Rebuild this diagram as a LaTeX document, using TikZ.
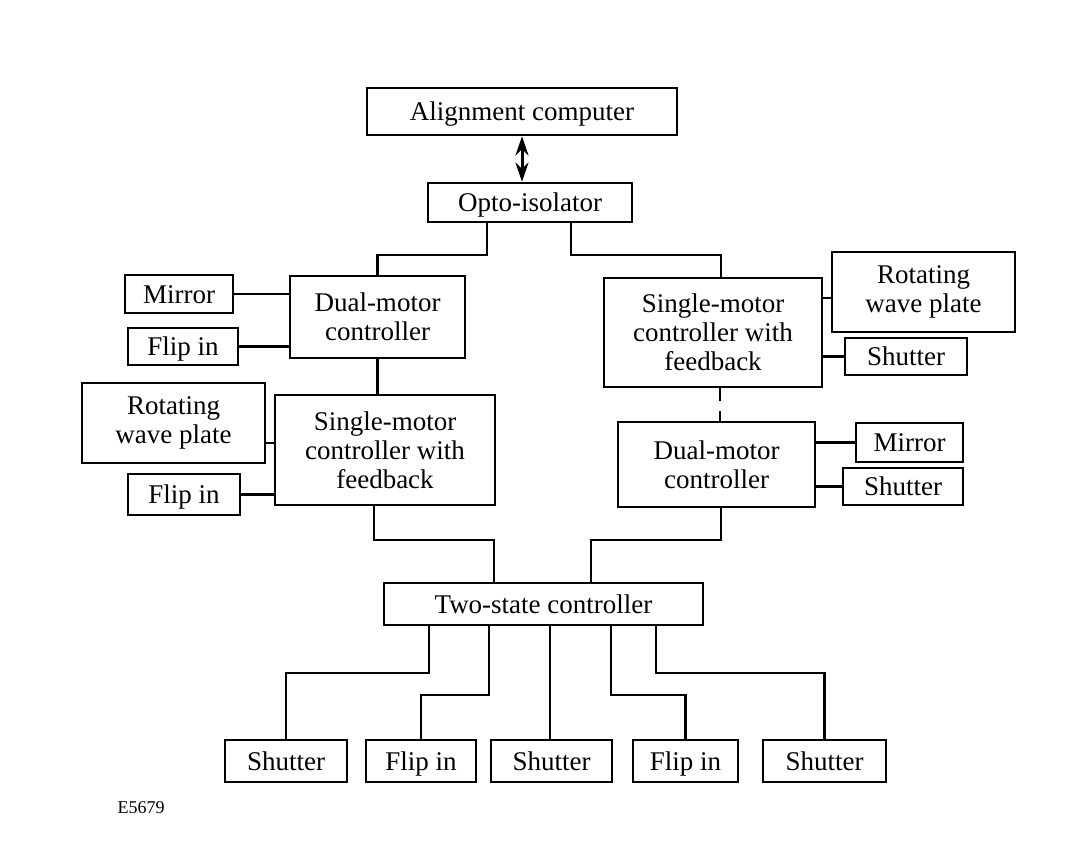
\documentclass[tikz,border=0pt]{standalone}
\usepackage{fontspec}
\setmainfont{Liberation Serif}
\usetikzlibrary{arrows.meta}

\begin{document}
\begin{tikzpicture}[x=1pt,y=-1pt,
      every node/.style={draw, line width=2.7pt, align=center, inner sep=0pt,
        font=\fontsize{27}{29}\selectfont},
      oneline/.style={text height=23pt, text depth=5pt},
      link/.style={line width=2.2pt}]
      \useasboundingbox (0,0) rectangle (1089,852);

      % Set up nodes
      \node[oneline, minimum width=310pt, minimum height=47pt] (align) at (522,111.5) {Alignment computer};
      \node[oneline, minimum width=204pt, minimum height=39pt] (opto) at (530,202.5) {Opto-isolator};

      \node[minimum width=175pt, minimum height=82pt] (dualL) at (377.5,317) {Dual-motor\\controller};
      \node[oneline, minimum width=108pt, minimum height=38pt] (mirrorL) at (179,294) {Mirror};
      \node[oneline, minimum width=110pt, minimum height=37pt] (flipL1) at (183,346.5) {Flip in};
      \node[minimum width=183pt, minimum height=80pt] (rotL) at (173.5,423) {Rotating\\wave plate};
      \node[minimum width=220pt, minimum height=110pt] (singleL) at (385,450) {Single-motor\\controller with\\feedback};
      \node[oneline, minimum width=112pt, minimum height=41pt] (flipL2) at (184,494.5) {Flip in};

      \node[minimum width=218pt, minimum height=109pt] (singleR) at (713,332.5) {Single-motor\\controller with\\feedback};
      \node[minimum width=183pt, minimum height=80pt] (rotR) at (923.5,292) {Rotating\\wave plate};
      \node[oneline, minimum width=122pt, minimum height=37pt] (shutR1) at (906,356.5) {Shutter};
      \node[minimum width=197pt, minimum height=85pt] (dualR) at (716.5,464.5) {Dual-motor\\controller};
      \node[oneline, minimum width=107pt, minimum height=39pt] (mirrorR) at (909.5,442.5) {Mirror};
      \node[oneline, minimum width=120pt, minimum height=37pt] (shutR2) at (903,486.5) {Shutter};

      \node[oneline, minimum width=319pt, minimum height=42pt] (twostate) at (543.5,604) {Two-state controller};

      \node[oneline, minimum width=122pt, minimum height=42pt] (sh1) at (286,761) {Shutter};
      \node[oneline, minimum width=110pt, minimum height=42pt] (fl1) at (421,761) {Flip in};
      \node[oneline, minimum width=121pt, minimum height=42pt] (sh2) at (551.5,761) {Shutter};
      \node[oneline, minimum width=105pt, minimum height=42pt] (fl2) at (685.5,761) {Flip in};
      \node[oneline, minimum width=123pt, minimum height=42pt] (sh3) at (824.5,761) {Shutter};

      \node[draw=none, font=\fontsize{18}{20}\selectfont] (tag) at (141,808) {E5679};

      % Draw connections
      \draw[line width=3pt, {Stealth[length=19pt,width=13pt]}-{Stealth[length=19pt,width=13pt]}]
        (align.south) -- (align.south |- opto.north);
      \draw[link] (487,0 |- opto.south) -- (487,255) -| (dualL.north);
      \draw[link] (571,0 |- opto.south) -- (571,255) -| (721,0 |- singleR.north);

      \draw[link] (mirrorL) -- (mirrorL -| dualL.west);
      \draw[link] (flipL1) -- (flipL1 -| dualL.west);
      \draw[link] (dualL.south) -- (dualL.south |- singleL.north);
      \draw[link] ([yshift=-20pt]rotL.east) -- ([yshift=-20pt]rotL.east -| singleL.west);
      \draw[link] (flipL2) -- (flipL2 -| singleL.west);

      \draw[link] ([yshift=-6pt]rotR.west) -- ([yshift=-6pt]rotR.west -| singleR.east);
      \draw[link] (shutR1) -- (shutR1 -| singleR.east);
      \draw[link, dash pattern=on 13pt off 10pt] (720,0 |- singleR.south) -- (720,0 |- dualR.north);
      \draw[link] (mirrorR) -- (mirrorR -| dualR.east);
      \draw[link] (shutR2) -- (shutR2 -| dualR.east);

      \draw[link] (374,0 |- singleL.south) -- (374,540) -| (494,0 |- twostate.north);
      \draw[link] (721,0 |- dualR.south) -- (721,540) -| (591,0 |- twostate.north);

      \draw[link] (429,0 |- twostate.south) -- (429,673) -| (sh1.north);
      \draw[link] (489,0 |- twostate.south) -- (489,695) -| (fl1.north);
      \draw[link] (550,0 |- twostate.south) -- (550,0 |- sh2.north);
      \draw[link] (611,0 |- twostate.south) -- (611,695) -| (fl2.north);
      \draw[link] (656,0 |- twostate.south) -- (656,673) -| (sh3.north);

    \end{tikzpicture}
\end{document}
